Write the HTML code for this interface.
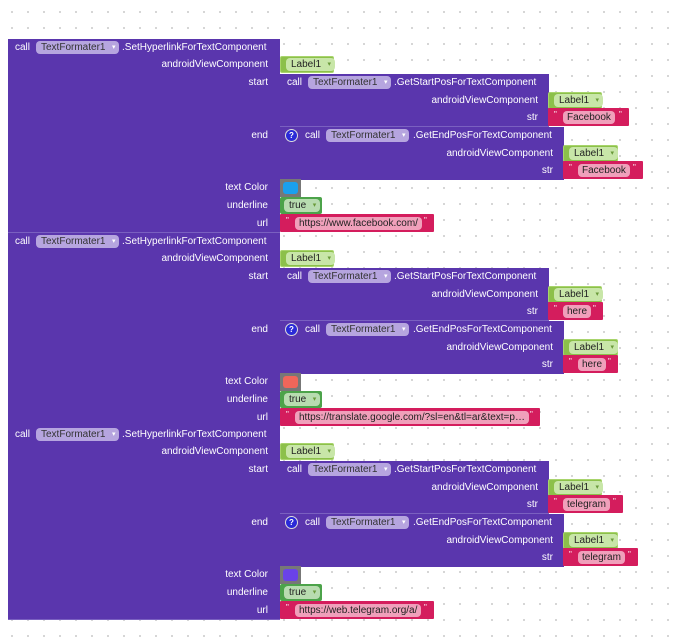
<!DOCTYPE html>
<html><head><meta charset="utf-8"><style>
body{margin:0;width:680px;height:640px;overflow:hidden;background:#fff;
background-image:radial-gradient(circle,#d0d0d0 0.9px,transparent 1.2px);background-size:16px 16px;background-position:4px 4px;
font-family:"Liberation Sans",sans-serif;font-size:10px;position:relative}
.b{position:absolute;box-sizing:border-box}
.t{position:absolute;color:#fff;white-space:nowrap;line-height:12px}
.pill{position:absolute;background:#b6a5df;color:#333;border-radius:4px;height:13px;line-height:13px;padding:0 14px 0 5px;white-space:nowrap}
.pill:after{content:"▾";position:absolute;right:4px;font-size:7px;color:#fff}
.gp{position:absolute;background:#c8e6a8;color:#222;border-radius:4px;height:13px;line-height:13px;padding:0 14px 0 5px}
.gp:after{content:"▾";position:absolute;right:4px;font-size:7px;color:#6a9a3a}
.sp{position:absolute;background:#f0a0bb;color:#222;border-radius:4px;height:13px;line-height:13px;padding:0 4px;white-space:nowrap}
</style></head><body>
<script>
function el(c,x,y,w,h,s,txt){var d=document.createElement('div');d.className=c;d.style.left=x+'px';d.style.top=y+'px';if(w)d.style.width=w+'px';if(h)d.style.height=h+'px';if(s)d.style.cssText+=s;if(txt!=null)d.textContent=txt;document.body.appendChild(d);return d}
function rt(x,y,txt){el('t',0,y-5,null,null,'text-align:right;width:'+x+'px',txt);}
function label(x,y,w){el('b',x,y-8,w,17,'background:#8cc04a;border:1px solid #a8d46c;border-radius:2px');el('gp',x+6,y-6,null,null,'',"Label1");}
function str(x,y,w,s){el('b',x,y-9,w,18,'background:#d41d5d;border-radius:1px');el('t',x+6,y-8,null,null,'font-size:8px','"');el('sp',x+15,y-6,null,null,'',s);el('t',x+w-10,y-8,null,null,'font-size:8px','"');}
function blk(y0,cfg){
 var P='#5a36ad';
 el('b',8,y0,272,194,'background:'+P+';border-bottom:1px solid #7a60c0');
 el('t',15,y0+3,null,null,'','call');el('pill',36,y0+2,null,null,'','TextFormater1');el('t',122,y0+3,null,null,'','.SetHyperlinkForTextComponent');
 rt(268,y0+25,'androidViewComponent');label(280,y0+25,54);
 rt(268,y0+43,'start');
 el('b',280,y0+35,269,53,'background:'+P+';border-bottom:1px solid #7a60c0');
 el('t',287,y0+38,null,null,'','call');el('pill',308,y0+37,null,null,'','TextFormater1');el('t',394,y0+38,null,null,'','.GetStartPosForTextComponent');
 rt(538,y0+61,'androidViewComponent');label(548,y0+61,54);
 rt(538,y0+78,'str');str(548,y0+78,cfg.sw,cfg.s);
 rt(268,y0+96,'end');
 el('b',280,y0+88,284,53,'background:'+P);
 el('b',285,y0+90,13,13,'background:#2a2ad8;border:1px solid #ddd;border-radius:50%;color:#fff;font-size:8px;text-align:center;line-height:11px;font-weight:bold','?');
 el('t',305,y0+91,null,null,'','call');el('pill',326,y0+90,null,null,'','TextFormater1');el('t',413,y0+91,null,null,'','.GetEndPosForTextComponent');
 rt(553,y0+114,'androidViewComponent');label(563,y0+114,55);
 rt(553,y0+131,'str');str(563,y0+131,cfg.ew,cfg.s);
 rt(268,y0+148,'text Color');
 el('b',280,y0+140,21,18,'background:#777');el('b',283,y0+143,15,12,'border-radius:3px;background:'+cfg.c);
 rt(268,y0+166,'underline');
 el('b',280,y0+158,42,17,'background:#4ca34a;border-radius:2px');el('gp',284,y0+160,null,null,'background:#b8dcb0','true');
 rt(268,y0+184,'url');str(280,y0+184,cfg.uw,cfg.u);
}
blk(39,{sw:81,ew:80,s:'Facebook',c:'#1aa0ee',u:'https://www.facebook.com/',uw:154});
blk(233,{sw:55,ew:55,s:'here',c:'#f0665a',u:'https://translate.google.com/?sl=en&tl=ar&text=p…',uw:260});
blk(426,{sw:75,ew:75,s:'telegram',c:'#6a42e8',u:'https://web.telegram.org/a/',uw:154});
</script>
</body></html>
